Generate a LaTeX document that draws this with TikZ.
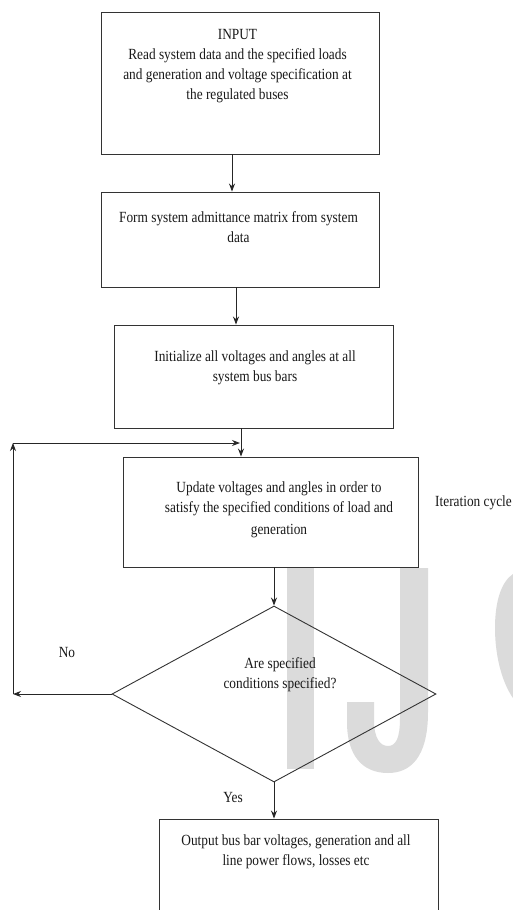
\documentclass[tikz,border=0pt]{standalone}
\usepackage{fontspec}
\setmainfont{Liberation Serif}[FakeStretch=0.86]
\usetikzlibrary{arrows.meta,shapes.geometric}
\tikzset{
  fbox/.style={draw=black!80, line width=0.9pt, inner sep=0pt},
  txt/.style={font=\fontsize{15.5}{20}\selectfont, align=center, inner sep=0pt, text=black!90},
  arr/.style={draw=black!85, line width=0.9pt, -{Stealth[length=8pt,width=6pt]}},
  wm/.style={fill=black!14}
}
\begin{document}
\begin{tikzpicture}[x=1pt,y=-1pt]
\useasboundingbox (0,0) rectangle (513,910);
\clip (0,0) rectangle (513,910);
\fill[white] (0,0) rectangle (513,910);
% watermark
\fill[wm] (287,568) rectangle (314,769);
\fill[wm] (400,568) -- (428,568) -- (428,712) .. controls (428,758) and (410,773) .. (388,773) .. controls (362,773) and (347,755) .. (347,722) -- (347,702) -- (374,702) -- (374,720) .. controls (374,738) and (380,746) .. (388,746) .. controls (396,746) and (400,738) .. (400,718) -- cycle;
\fill[wm] (513,574) .. controls (501,582) and (495,602) .. (495,628) .. controls (495,658) and (503,684) .. (513,698) -- cycle;
% boxes
\node[fbox, minimum width=278pt, minimum height=142pt] (b1) at (240,83) {};
\node[fbox, minimum width=278pt, minimum height=95pt] (b2) at (240,239.5) {};
\node[fbox, minimum width=279pt, minimum height=103pt] (b3) at (253.5,376.5) {};
\node[fbox, minimum width=295pt, minimum height=110pt] (b4) at (270.5,512) {};
\node[fbox, diamond, minimum width=324pt, minimum height=176pt] (d) at (274,694) {};
\node[fbox, minimum width=279pt, minimum height=120pt] (b5) at (298.5,879) {};
% texts
\node[txt] (t1) at (237.5,66) {INPUT\\Read system data and the specified loads\\and generation and voltage specification at\\the regulated buses};
\node[txt] (t2) at (238.5,227.5) {Form system admittance matrix from system\\data};
\node[txt] (t3) at (255,367.5) {Initialize all voltages and angles at all\\system bus bars};
\node[txt] (t4) at (279,510) {Update voltages and angles in order to\\satisfy the specified conditions of load and\\[2pt]generation};
\node[txt] (t5) at (280,675) {Are specified\\conditions specified?};
\node[txt] (t6) at (296,852) {Output bus bar voltages, generation and all\\line power flows, losses etc};
\node[txt] (no) at (67,652) {No};
\node[txt] (yes) at (233,797) {Yes};
\node[txt, anchor=west] (it) at (435,503) {Iteration cycle};
% connectors
\coordinate (c1) at (13,694);
\coordinate (c2) at (13,443);
\coordinate (c3) at (240,443);
\draw[arr] ([xshift=-8pt]b1.south) -- ([xshift=-8pt]b2.north);
\draw[arr] ([xshift=-4pt]b2.south) -- ([xshift=-17.5pt]b3.north);
\draw[arr] ([xshift=-12.5pt]b3.south) -- ([xshift=-29.5pt]b4.north);
\draw[arr] (b4.south -| d.north) -- (d.north);
\draw[arr] (d.south) -- (b5.north -| d.south);
\draw[arr] (d.west) -- (c1);
\draw[arr] (c1) -- (c2);
\draw[arr] (c2) -- (c3);
\end{tikzpicture}
\end{document}
